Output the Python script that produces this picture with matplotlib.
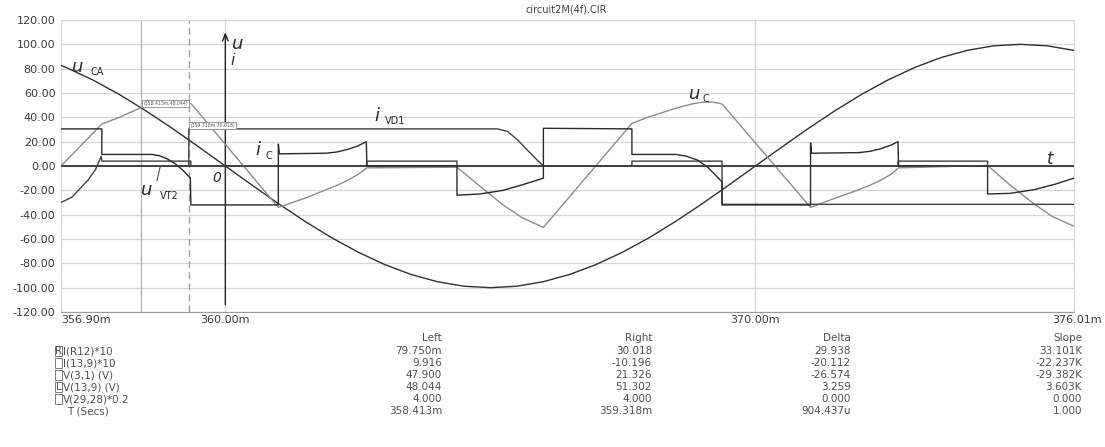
import numpy as np
import matplotlib.pyplot as plt
import matplotlib.transforms as mtransforms
from matplotlib.patches import Rectangle

# sinusoidal source voltage V(3,1) (u_CA), time in ms
t_uca = [356.90, 357.0, 357.5, 358.0, 358.5, 359.0, 359.5, 360.0, 360.5, 361.0,
         361.5, 362.0, 362.5, 363.0, 363.5, 364.0, 364.5, 365.0, 365.5, 366.0,
         366.5, 367.0, 367.5, 368.0, 368.5, 369.0, 369.5, 370.0, 370.5, 371.0,
         371.5, 372.0, 372.5, 373.0, 373.5, 374.0, 374.5, 375.0, 375.5, 376.0, 376.01]
u_ca = [82.7, 80.9, 70.7, 58.8, 45.4, 30.9, 15.6, 0.0, -15.6, -30.9,
        -45.4, -58.8, -70.7, -80.9, -89.1, -95.1, -98.8, -100.0, -98.8, -95.1,
        -89.1, -80.9, -70.7, -58.8, -45.4, -30.9, -15.6, 0.0, 15.6, 30.9,
        45.4, 58.8, 70.7, 80.9, 89.1, 95.1, 98.8, 100.0, 98.8, 95.1, 95.0]

# capacitor voltage V(13,9) (u_C)
t_uc = [356.90, 357.67, 358.00, 358.41, 358.62, 358.80, 359.00, 359.20, 359.36,
        361.00, 361.50, 361.90, 362.10, 362.30, 362.50, 362.67,
        364.37, 364.80, 365.24, 365.60, 366.00,
        367.67, 368.00, 368.50, 368.80, 369.00, 369.20, 369.37,
        371.04, 371.50, 371.95, 372.15, 372.35, 372.55, 372.70,
        374.38, 374.80, 375.25, 375.60, 376.01]
u_c = [0, 34.5, 40, 48, 50.5, 52, 53, 52.5, 51,
       -34, -26.5, -19.5, -16, -12, -7, -1.5,
       -1, -16.5, -32, -42.5, -50.5,
       35, 40.5, 47.5, 51, 52.5, 52.5, 51,
       -34, -26.5, -19.5, -16, -12, -7, -1.5,
       0.5, -15.5, -31, -41.5, -49.5]

# capacitor current I(13,9)*10 (i_C)
t_ic = [356.90, 357.67, 357.67, 358.62, 358.75, 358.90, 359.05, 359.20, 359.34, 359.35,
        361.00, 361.00, 361.02, 361.90, 362.10, 362.30, 362.50, 362.66, 362.67,
        364.37, 364.37, 364.80, 365.24, 365.60, 366.00, 366.00,
        367.67, 367.67, 368.50, 368.70, 368.90, 369.10, 369.37, 369.37,
        371.04, 371.04, 371.06, 371.95, 372.15, 372.35, 372.55, 372.69, 372.70,
        374.38, 374.38, 374.80, 375.25, 375.65, 376.01]
i_c = [30.5, 30.5, 9.5, 9.5, 8.5, 6, 2, -3.5, -10, -32,
       -32, 18, 10, 10.5, 11.5, 13.5, 16.5, 20, 0,
       0, -24, -23, -20, -15.5, -10, 31,
       30.5, 9.5, 9.5, 8, 5, -1, -13, -32,
       -32, 19, 10.5, 11, 12, 14, 17, 20, 0,
       0, -23, -22.5, -19.5, -15, -10]

# diode current I(R12)*10 (i_VD1)
t_ivd = [356.90, 359.31, 359.31, 365.13, 365.32, 365.50, 365.70, 365.88, 366.00,
         369.37, 369.37, 376.01]
i_vd1 = [0, 0, 30.5, 30.5, 28.5, 22, 13, 5, 0,
         0, -31.5, -31.5]

# V(29,28)*0.2 (u_VT2)
t_vt = [356.90, 357.11, 357.41, 357.55, 357.66, 357.67, 359.35, 359.35,
        362.67, 362.67, 364.37, 364.37, 367.67, 367.67, 369.37, 369.37,
        372.69, 372.69, 374.38, 374.38, 376.01]
u_vt = [-30, -25.5, -11.5, -3, 8, 4, 4, 0,
        0, 4, 4, 0, 0, 4, 4, 0,
        0, 4, 4, 0, 0]

cursor_left = 358.413
cursor_right = 359.318

x_ticks = [356.90, 360.00, 370.00, 376.01]
x_labels = ['356.90m', '360.00m', '370.00m', '376.01m']
y_ticks = list(range(-120, 121, 20))

table_names = ['I(R12)*10', 'I(13,9)*10', 'V(3,1) (V)', 'V(13,9) (V)', 'V(29,28)*0.2', 'T (Secs)']
table_marks = ['R', '', '', 'L', '', None]
table_headers = ['Left', 'Right', 'Delta', 'Slope']
col_left = ['79.750m', '9.916', '47.900', '48.044', '4.000', '358.413m']
col_right = ['30.018', '-10.196', '21.326', '51.302', '4.000', '359.318m']
col_delta = ['29.938', '-20.112', '-26.574', '3.259', '0.000', '904.437u']
col_slope = ['33.101K', '-22.237K', '-29.382K', '3.603K', '0.000', '1.000']

W, H = 1105, 447
fig = plt.figure(figsize=(W / 100, H / 100), dpi=100)
ax = fig.add_axes([61 / W, 1 - 312 / H, (1074 - 61) / W, (312 - 20) / H])


def fpos(x, y):
    return x / W, 1 - y / H


grid_c = '#d6d6d6'
ax.set_xlim(356.90, 376.01)
ax.set_ylim(-120, 120)
ax.set_yticks(y_ticks)
ax.set_yticklabels([f'{v:.2f}' for v in y_ticks])
ax.set_xticks(x_ticks)
ax.set_xticklabels(x_labels)
ax.tick_params(length=0, labelsize=8, colors='#3a3a3a')
ax.tick_params(axis='y', pad=4)
ax.tick_params(axis='x', pad=2)
xl = ax.get_xticklabels()
xl[0].set_ha('left')
xl[-1].set_transform(xl[-1].get_transform() +
                     mtransforms.ScaledTranslation(3 / 100, 0, fig.dpi_scale_trans))
ax.grid(True, color=grid_c, lw=0.9)
ax.set_axisbelow(True)
for side in ['left', 'top', 'right']:
    ax.spines[side].set_color(grid_c)
ax.spines['bottom'].set_color('#9a9a9a')

# cursors
ax.axvline(cursor_left, color='#b8b8b8', lw=1.0, zorder=1)
ax.axvline(cursor_right, color='#a0a0a0', lw=1.0, ls=(0, (5, 3)), zorder=1)

# t and u/i axes
ax.axhline(0, color='#222222', lw=1.1, zorder=3)
ax.annotate('', xy=(360.0, 110), xytext=(360.0, -114),
            arrowprops=dict(arrowstyle='->,head_length=0.5,head_width=0.2',
                            color='#222222', lw=1.0, shrinkA=0, shrinkB=0), zorder=3)

# traces
ax.plot(t_uca, u_ca, color='#303030', lw=1.0, zorder=4)
ax.plot(t_uc, u_c, color='#8c8c8c', lw=1.0, zorder=4)
ax.plot(t_vt, u_vt, color='#404040', lw=1.0, zorder=4)
ax.plot(t_ivd, i_vd1, color='#404040', lw=1.0, zorder=4)
ax.plot(t_ic, i_c, color='#2a2a2a', lw=1.0, zorder=5)

# cursor tags
tag = dict(boxstyle='square,pad=0.25', fc='white', ec='#8a8a8a', lw=0.6)
ax.text(cursor_left + 0.04, 48.044 + 3.5, f'({cursor_left:.3f}m,48.044)', fontsize=3.3,
        color='#555555', va='center', ha='left', bbox=tag, zorder=6)
ax.text(cursor_right + 0.02, 30.018 + 3.5, f'({cursor_right:.3f}m,30.018)', fontsize=3.3,
        color='#555555', va='center', ha='left', bbox=tag, zorder=6)

# curve labels
lab = dict(color='#2a2a2a', style='italic', zorder=7)
ax.text(357.22, 81, 'u', fontsize=13, ha='center', va='center', **lab)
ax.text(357.58, 77, 'CA', fontsize=7, ha='center', va='center', color='#2a2a2a', zorder=7)
ax.text(368.85, 59, 'u', fontsize=13, ha='center', va='center', **lab)
ax.text(369.07, 55, 'C', fontsize=7, ha='center', va='center', color='#2a2a2a', zorder=7)
ax.text(362.85, 41, 'i', fontsize=13, ha='center', va='center', **lab)
ax.text(363.20, 37, 'VD1', fontsize=7, ha='center', va='center', color='#2a2a2a', zorder=7)
ax.text(360.62, 13, 'i', fontsize=13, ha='center', va='center', **lab)
ax.text(360.82, 8, 'C', fontsize=7, ha='center', va='center', color='#2a2a2a', zorder=7)
ax.text(358.52, -20, 'u', fontsize=13, ha='center', va='center', **lab)
ax.text(358.95, -25, 'VT2', fontsize=7, ha='center', va='center', color='#2a2a2a', zorder=7)
ax.plot([358.71, 358.77], [-12, -1], color='#555555', lw=0.8, zorder=6)
ax.text(359.84, -10, '0', fontsize=10, ha='center', va='center', **lab)
ax.text(375.57, 6, 't', fontsize=12, ha='center', va='center', **lab)
ax.text(360.24, 100, 'u', fontsize=13, ha='center', va='center', **lab)
ax.text(360.14, 87, 'i', fontsize=11, ha='center', va='center', **lab)

fig.text(*fpos(566, 9), 'circuit2M(4f).CIR', fontsize=7, color='#444444', ha='center', va='center')

# cursor readout table
txt = dict(fontsize=7.5, color='#4f4f4f', va='center')
col_right_edges = [442, 652, 851, 1082]
cols = [col_left, col_right, col_delta, col_slope]
for k in range(4):
    fig.text(*fpos(col_right_edges[k], 338), table_headers[k], ha='right', **txt)
row_y = [351, 363, 375, 387, 399, 411]
for r, name in enumerate(table_names):
    y = row_y[r]
    mark = table_marks[r]
    if mark is None:
        fig.text(*fpos(67, y), name, ha='left', **txt)
    else:
        x0, y0 = fpos(55, y + 5)
        fig.add_artist(Rectangle((x0, y0), 7 / W, 10 / H, transform=fig.transFigure,
                                 fill=False, ec='#777777', lw=0.7))
        if mark:
            fig.text(*fpos(58.5, y), mark, ha='center', fontsize=7, color='#4f4f4f', va='center')
        fig.text(*fpos(63, y), name, ha='left', **txt)
    for k in range(4):
        fig.text(*fpos(col_right_edges[k], y), cols[k][r], ha='right', **txt)

fig.savefig('out.png', dpi=100)
